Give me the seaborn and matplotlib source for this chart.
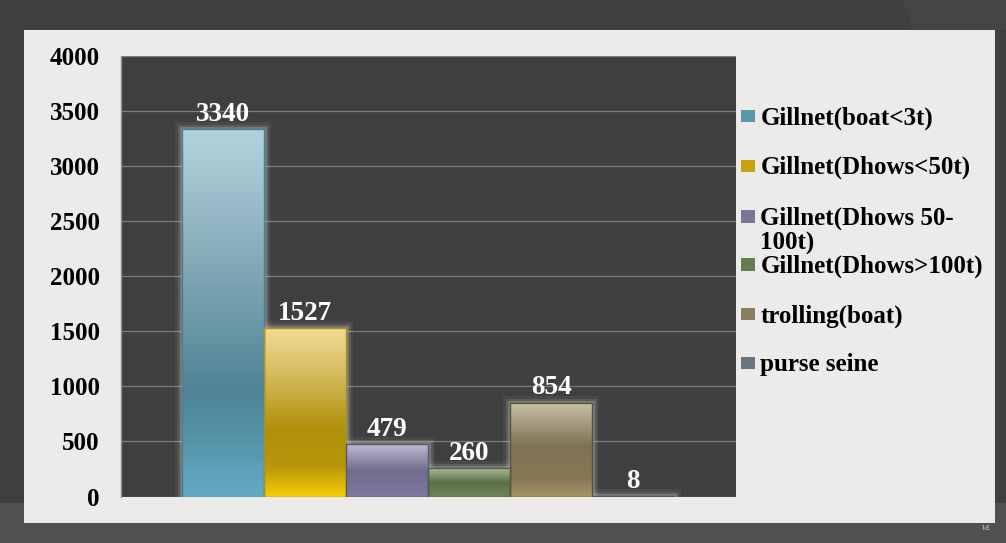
import numpy as np
import pandas as pd
import matplotlib
matplotlib.use("Agg")
import matplotlib.pyplot as plt
import matplotlib.patheffects as pe
from matplotlib.colors import LinearSegmentedColormap
from matplotlib.patches import Rectangle, Polygon
import seaborn as sns

# ---- data -------------------------------------------------------------
gears = [
    "Gillnet(boat<3t)",
    "Gillnet(Dhows<50t)",
    "Gillnet(Dhows 50-\n100t)",
    "Gillnet(Dhows>100t)",
    "trolling(boat)",
    "purse seine",
]
counts = [3340, 1527, 479, 260, 854, 8]
y_ticks = [0, 500, 1000, 1500, 2000, 2500, 3000, 3500, 4000]
page_number = "١٤"

# ---- styling ----------------------------------------------------------
swatch_colors = ["#5b97aa", "#c9a210", "#7a7694", "#647b55", "#8a7e60", "#6a7282"]
edge_colors = ["#4a8192", "#b0921a", "#5a5670", "#4e6040", "#5c5238", "#50586a"]
# vertical gradient stops (top -> bottom) for every bar
gradient_stops = [
    [(0.0, "#b3d4de"), (0.35, "#86abb8"), (0.72, "#4d8395"), (1.0, "#63aac3")],
    [(0.0, "#f1dc94"), (0.3, "#d2b758"), (0.6, "#b0900a"), (0.82, "#b9970a"), (1.0, "#f6cd06")],
    [(0.0, "#c2bad2"), (0.5, "#706c8c"), (1.0, "#7e78a2")],
    [(0.0, "#a8ba9a"), (0.5, "#5c7048"), (1.0, "#6c8458")],
    [(0.0, "#cac0a6"), (0.45, "#7f7353"), (0.8, "#857856"), (1.0, "#a89466")],
    [(0.0, "#8a92a2"), (1.0, "#667080")],
]

W, H = 1006, 543
SLIDE = "#3f3f3f"
BAND = "#505050"
PANEL = "#ecebe9"
PLOT_BG = "#3f3f3f"
GRID = "#7c7c7c"
SERIF = ["Liberation Serif", "DejaVu Serif"]


def fx(px):
    return px / W


def fy(py):
    return 1 - py / H


sns.set_style("white")
plt.rcParams["font.family"] = SERIF
plt.rcParams["font.weight"] = "bold"

fig = plt.figure(figsize=(W / 100, H / 100), dpi=100, facecolor=SLIDE)

# slide decoration: lower band, diagonal sheen, light content panel
fig.patches.append(Rectangle((0, 0), 1, fy(503), transform=fig.transFigure,
                             facecolor=BAND, edgecolor="none", zorder=0))
fig.patches.append(Polygon([(fx(903), 1), (1, 1), (1, fy(30)), (fx(913), fy(30))],
                           closed=True, transform=fig.transFigure,
                           facecolor="#444444", edgecolor="none", zorder=0))
fig.patches.append(Rectangle((fx(24), fy(523)), fx(995) - fx(24), fy(30) - fy(523),
                             transform=fig.transFigure, facecolor=PANEL,
                             edgecolor="none", zorder=1))

ax = fig.add_axes([fx(120.7), fy(496.5), fx(735.7) - fx(120.7), fy(56.3) - fy(496.5)])
ax.set_facecolor(PLOT_BG)
ax.set_zorder(2)

df = pd.DataFrame({"group": ["all"] * len(gears), "gear": gears, "count": counts})
sns.barplot(data=df, x="group", y="count", hue="gear", hue_order=gears,
            palette=swatch_colors, saturation=1, width=0.8, dodge=True,
            errorbar=None, legend=False, ax=ax)

ax.set_ylim(0, 4000)
ax.set_xlim(-0.5, 0.5)
ax.set_yticks(y_ticks)
ax.set_yticklabels([str(t) for t in y_ticks])
ax.set_xticks([])
ax.set_xlabel("")
ax.set_ylabel("")
ax.set_axisbelow(True)
ax.yaxis.grid(True, color=GRID, linewidth=0.9)
ax.xaxis.grid(False)
for side in ("top", "right", "bottom"):
    ax.spines[side].set_visible(False)
ax.spines["left"].set_color("#8a8a8a")
ax.spines["left"].set_linewidth(1.0)
ax.tick_params(axis="y", which="major", direction="out", length=5, width=1,
               color="#8a8a8a", pad=10, labelsize=18, labelcolor="black")
for lab in ax.get_yticklabels():
    lab.set_fontweight("bold")
    lab.set_family(SERIF)

glow = [
    pe.Stroke(linewidth=10, foreground=(0.85, 0.85, 0.85, 0.07)),
    pe.Stroke(linewidth=6.5, foreground=(0.88, 0.88, 0.88, 0.12)),
    pe.Stroke(linewidth=3.5, foreground=(0.92, 0.92, 0.92, 0.22)),
]

for container, stops, edge in zip(ax.containers, gradient_stops, edge_colors):
    cmap = LinearSegmentedColormap.from_list("bar", stops)
    for bar in container:
        x0, y0 = bar.get_xy()
        w, h = bar.get_width(), bar.get_height()
        # soft halo behind the bar
        bar.set_facecolor("none")
        bar.set_edgecolor("none")
        bar.set_zorder(1.5)
        bar.set_path_effects(glow)
        # gradient fill clipped to the bar
        ramp = np.linspace(0, 1, 256).reshape(-1, 1)
        im = ax.imshow(ramp, cmap=cmap, extent=[x0, x0 + w, y0, y0 + h],
                       origin="upper", aspect="auto", interpolation="bilinear",
                       zorder=2.5)
        im.set_clip_path(bar)
        # thin outline on top
        ax.add_patch(Rectangle((x0, y0), w, h, fill=False, edgecolor=edge,
                               linewidth=1.0, zorder=3))
    ax.bar_label(container, fmt="%d", padding=1.5, color="white",
                 fontsize=19.5, fontweight="bold", family=SERIF, zorder=4)

ax.set_ylim(0, 4000)
ax.set_xlim(-0.5, 0.5)

# legend: swatch + label in equal slots beside the plot
slot_centers = [116, 165.5, 216.5, 264.5, 314, 362.5]
for label, color, yc in zip(gears, swatch_colors, slot_centers):
    fig.patches.append(Rectangle((fx(741), fy(yc + 6)), fx(755) - fx(741), 12 / H,
                                 transform=fig.transFigure, facecolor=color,
                                 edgecolor="none", zorder=3))
    fig.text(fx(760.5), fy(yc - 9.5), label, ha="left", va="top",
             fontsize=18, fontweight="bold", family=SERIF, color="black",
             linespacing=1.05, zorder=4)

fig.text(fx(986), fy(527), page_number, ha="center", va="center", fontsize=6,
         color="#a8a8a8", family=["DejaVu Sans"])

fig.savefig("out.png", dpi=100, facecolor=fig.get_facecolor())
